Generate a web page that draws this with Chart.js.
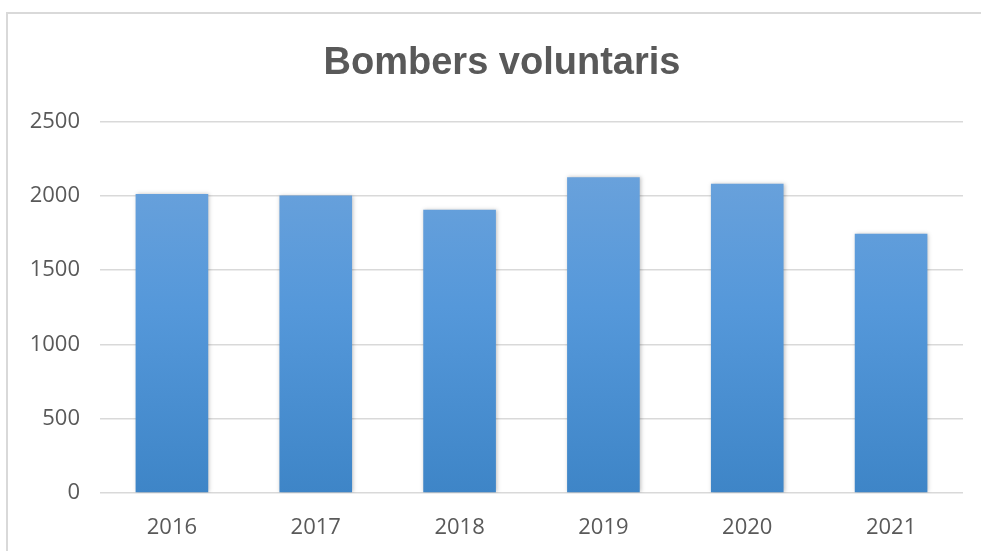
<!DOCTYPE html>
<html>
<head>
<meta charset="utf-8">
<script src="https://cdn.jsdelivr.net/npm/chart.js@4"></script>
<style>
  html, body { margin: 0; padding: 0; background: #fff; overflow: hidden; width: 981px; height: 551px; }
  #marc {
    position: absolute; left: 6px; top: 12px; width: 975px; height: 539px;
    border-top: 2px solid #d9d9d9; border-left: 2px solid #d9d9d9; box-sizing: border-box;
  }
  #wrap { position: absolute; left: 0; top: 0; width: 981px; height: 551px; }
</style>
</head>
<body>
<div id="marc"></div>
<div id="wrap"><canvas id="grafic" width="981" height="551"></canvas></div>
<script>
const anys = ["2016", "2017", "2018", "2019", "2020", "2021"];
const bombers = [2012, 2002, 1906, 2126, 2082, 1745];
const ticksY = [0, 500, 1000, 1500, 2000, 2500];

const textColor = "#595959";
const gridColor = "#d9d9d9";

function degradat(context) {
  const area = context.chart.chartArea;
  if (!area) return "#5b9bd5";
  const g = context.chart.ctx.createLinearGradient(0, area.top, 0, area.bottom);
  g.addColorStop(0, "#71a5dc");
  g.addColorStop(0.5, "#5598da");
  g.addColorStop(1, "#3e85c7");
  return g;
}

const ombra = {
  id: "ombra",
  beforeDatasetsDraw(chart) {
    const ctx = chart.ctx;
    ctx.save();
    ctx.shadowColor = "rgba(0,0,0,0.25)";
    ctx.shadowBlur = 4;
    ctx.shadowOffsetX = 1;
  },
  afterDatasetsDraw(chart) {
    chart.ctx.restore();
  }
};

// el títol del full de càlcul no queda centrat a tot l'ample: el desplacem una mica
const titolDesplacat = {
  id: "titolDesplacat",
  afterLayout(chart) {
    if (chart.titleBlock) chart.titleBlock.left += 17;
  }
};

new Chart(document.getElementById("grafic"), {
  type: "bar",
  data: {
    labels: anys,
    datasets: [
      {
        label: "Bombers voluntaris",
        data: bombers,
        backgroundColor: degradat,
        barPercentage: 1,
        categoryPercentage: 0.505
      }
    ]
  },
  plugins: [ombra, titolDesplacat],
  options: {
    responsive: false,
    animation: false,
    layout: {
      padding: { left: 24, right: 18, top: 41, bottom: 0 }
    },
    plugins: {
      legend: { display: false },
      tooltip: { enabled: false },
      title: {
        display: true,
        text: "Bombers voluntaris",
        color: textColor,
        font: { family: "'Liberation Sans', sans-serif", size: 38, weight: "bold" },
        padding: { top: 0, bottom: 35 }
      }
    },
    scales: {
      x: {
        grid: { display: false, drawTicks: false },
        border: { display: false },
        ticks: {
          color: textColor,
          font: { family: "'Open Sans', sans-serif", size: 22 },
          padding: 22
        },
        afterFit(s) { s.height = 58; }
      },
      y: {
        min: 0,
        max: 2500,
        afterBuildTicks(s) { s.ticks = ticksY.map(v => ({ value: v })); },
        grid: { color: gridColor, lineWidth: 1.5, drawTicks: false },
        border: { display: false },
        ticks: {
          color: textColor,
          font: { family: "'Open Sans', sans-serif", size: 22 },
          padding: 20,
          callback: v => String(v)
        },
        afterFit(s) { s.width = 76; }
      }
    }
  }
});
</script>
</body>
</html>
